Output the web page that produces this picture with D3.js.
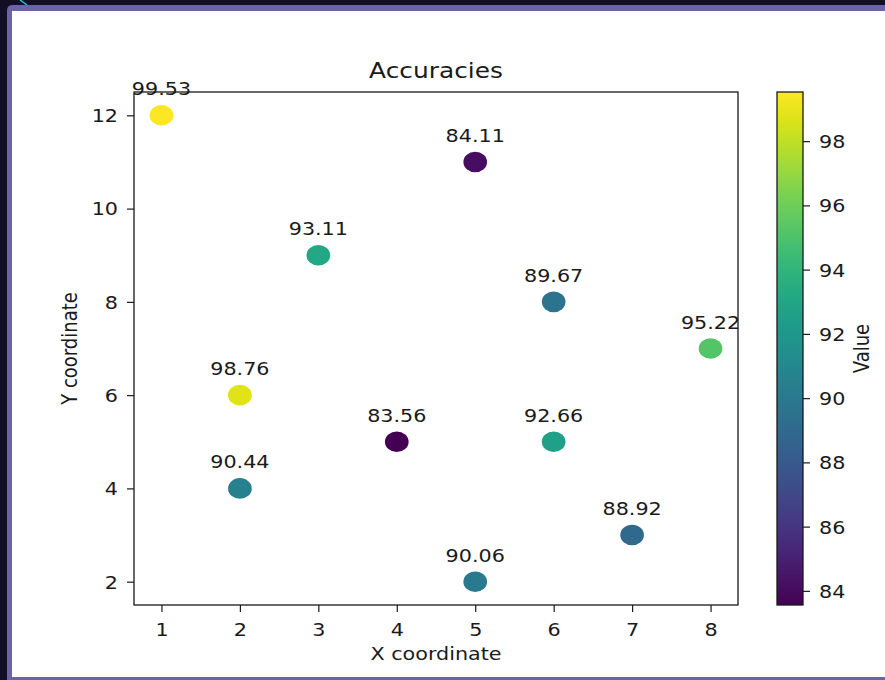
<!DOCTYPE html>
<html>
<head>
<meta charset="utf-8">
<script src="https://cdn.jsdelivr.net/npm/d3@7"></script>
<style>
  html, body { margin: 0; padding: 0; background: #120e24; overflow: hidden; }
  svg { display: block; }
  text { font-family: "DejaVu Sans", sans-serif; fill: #1a1a1a; }
</style>
</head>
<body>
<svg id="chart" width="885" height="680"></svg>
<script>
// ---- data ----
const xValues = [1, 5, 3, 6, 8, 2, 4, 6, 2, 7, 5];
const yValues = [12, 11, 9, 8, 7, 6, 5, 5, 4, 3, 2];
const accuracies = [99.53, 84.11, 93.11, 89.67, 95.22, 98.76, 83.56, 92.66, 90.44, 88.92, 90.06];
const xTicks = [1, 2, 3, 4, 5, 6, 7, 8];
const yTicks = [2, 4, 6, 8, 10, 12];
const cbTicks = [84, 86, 88, 90, 92, 94, 96, 98];
const titleText = "Accuracies";
const xLabel = "X coordinate";
const yLabel = "Y coordinate";
const cbLabel = "Value";

// ---- layout ----
const SX = 1.15;          // horizontal stretch of the screenshot
const FS = 18;            // base font size
const plot = { left: 134, right: 738, top: 92, bottom: 605 };
const cb = { left: 777, right: 803 };

const svg = d3.select("#chart");

// window frame
svg.append("rect").attr("x", 7).attr("y", 5).attr("width", 900).attr("height", 690)
  .attr("rx", 5).attr("fill", "#6b63a6");
svg.append("rect").attr("x", 12).attr("y", 11).attr("width", 890).attr("height", 666)
  .attr("fill", "#ffffff");
svg.append("line").attr("x1", 20).attr("y1", 0).attr("x2", 27).attr("y2", 5)
  .attr("stroke", "#22c8e0").attr("stroke-width", 1.5);

function stretchedText(g, x, y, str, size, anchor, rotate) {
  const t = g.append("text")
    .attr("transform", `translate(${x},${y}) ${rotate ? `rotate(${rotate})` : ""} scale(${rotate ? 1 : SX},${rotate ? SX : 1})`)
    .attr("text-anchor", anchor)
    .style("font-size", size + "px")
    .text(str);
  return t;
}

const xDomain = [0.65, 8.35];
const yDomain = [1.5, 12.5];
const vmin = d3.min(accuracies), vmax = d3.max(accuracies);

const x = d3.scaleLinear().domain(xDomain).range([plot.left, plot.right]);
const y = d3.scaleLinear().domain(yDomain).range([plot.bottom, plot.top]);
const norm = d3.scaleLinear().domain([vmin, vmax]).range([0, 1]);
const color = v => d3.interpolateViridis(norm(v));
const cy = d3.scaleLinear().domain([vmin, vmax]).range([plot.bottom, plot.top]);

// points
const pts = xValues.map((xv, i) => ({ x: xv, y: yValues[i], v: accuracies[i] }));
const ptsG = svg.append("g");
ptsG.selectAll("ellipse").data(pts).enter().append("ellipse")
  .attr("cx", d => x(d.x)).attr("cy", d => y(d.y))
  .attr("rx", 10.3 * SX).attr("ry", 10.3)
  .attr("fill", d => color(d.v));

// annotations
const annG = svg.append("g");
pts.forEach(d => {
  stretchedText(annG, x(d.x), y(d.y) - 20, d.v.toFixed(2), FS, "middle");
});

// axes
function styleAxis(g) {
  g.select(".domain").remove();
  g.selectAll(".tick line").attr("stroke", "#1a1a1a").attr("stroke-width", 1.2);
  g.selectAll(".tick text").remove();
}
const xAxisG = svg.append("g").attr("transform", `translate(0,${plot.bottom})`)
  .call(d3.axisBottom(x).tickValues(xTicks).tickSize(7));
styleAxis(xAxisG);
xAxisG.selectAll(".tick").each(function (d) {
  stretchedText(d3.select(this), 0, 31, String(d), FS, "middle");
});

const yAxisG = svg.append("g").attr("transform", `translate(${plot.left},0)`)
  .call(d3.axisLeft(y).tickValues(yTicks).tickSize(7));
styleAxis(yAxisG);
yAxisG.selectAll(".tick").each(function (d) {
  stretchedText(d3.select(this), -16, 6.4, String(d), FS, "end");
});

// spines
svg.append("rect").attr("x", plot.left).attr("y", plot.top)
  .attr("width", plot.right - plot.left).attr("height", plot.bottom - plot.top)
  .attr("fill", "none").attr("stroke", "#1a1a1a").attr("stroke-width", 1.3);

// title and labels
stretchedText(svg, (plot.left + plot.right) / 2, 78, titleText, FS * 1.2, "middle");
stretchedText(svg, (plot.left + plot.right) / 2, 660, xLabel, FS, "middle");
stretchedText(svg, 77, (plot.top + plot.bottom) / 2, yLabel, FS, "middle", -90);

// colorbar
const defs = svg.append("defs");
const grad = defs.append("linearGradient").attr("id", "viridisGrad")
  .attr("x1", 0).attr("y1", 1).attr("x2", 0).attr("y2", 0);
d3.range(0, 1.0001, 0.05).forEach(t => {
  grad.append("stop").attr("offset", t).attr("stop-color", d3.interpolateViridis(t));
});
svg.append("rect").attr("x", cb.left).attr("y", plot.top)
  .attr("width", cb.right - cb.left).attr("height", plot.bottom - plot.top)
  .attr("fill", "url(#viridisGrad)").attr("stroke", "#1a1a1a").attr("stroke-width", 1.3);

const cbAxisG = svg.append("g").attr("transform", `translate(${cb.right},0)`)
  .call(d3.axisRight(cy).tickValues(cbTicks).tickSize(7));
styleAxis(cbAxisG);
cbAxisG.selectAll(".tick").each(function (d) {
  stretchedText(d3.select(this), 16, 6.4, String(d), FS, "start");
});
stretchedText(svg, 869, (plot.top + plot.bottom) / 2, cbLabel, FS, "middle", -90);
</script>
</body>
</html>
